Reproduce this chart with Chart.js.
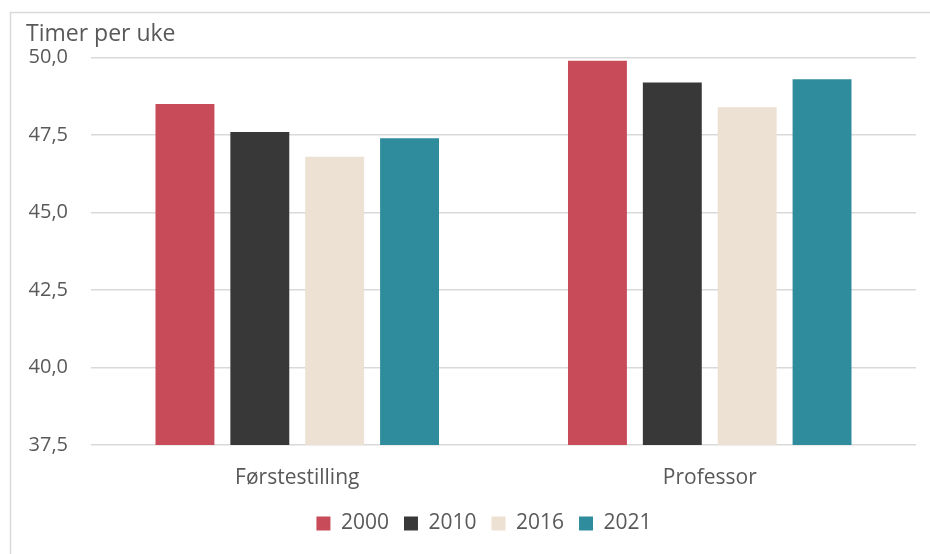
<!DOCTYPE html>
<html>
<head>
<meta charset="utf-8">
<script src="https://cdn.jsdelivr.net/npm/chart.js@4/dist/chart.umd.min.js"></script>
<style>
  html, body { margin: 0; padding: 0; background: #fff; }
  #wrap { position: relative; width: 930px; height: 554px; }
  canvas { display: block; }
</style>
</head>
<body>
<div id="wrap"><canvas id="c" width="930" height="554"></canvas></div>
<script>
const categories = ['Førstestilling', 'Professor'];
const years = ['2000', '2010', '2016', '2021'];
const values2000 = [48.5, 49.9];
const values2010 = [47.6, 49.2];
const values2016 = [46.8, 48.4];
const values2021 = [47.4, 49.3];
const yTickValues = [37.5, 40.0, 42.5, 45.0, 47.5, 50.0];
const yTitle = 'Timer per uke';

const colors = ['#c84b5a', '#383838', '#ece1d2', '#2e8c9d'];
const series = [values2000, values2010, values2016, values2021];

const framePlugin = {
  id: 'frame',
  beforeDraw(chart) {
    const ctx = chart.ctx;
    ctx.save();
    ctx.fillStyle = '#fff';
    ctx.fillRect(0, 0, chart.width, chart.height);
    ctx.strokeStyle = '#d9d9d9';
    ctx.lineWidth = 1.5;
    ctx.beginPath();
    ctx.moveTo(10.5, chart.height);
    ctx.lineTo(10.5, 12.5);
    ctx.lineTo(chart.width, 12.5);
    ctx.stroke();
    ctx.restore();
  }
};

const legendShift = {
  id: 'legendShift',
  afterLayout(chart) {
    if (chart.legend) {
      chart.legend.left += 13;
      chart.legend.right += 13;
    }
  }
};

new Chart(document.getElementById('c'), {
  type: 'bar',
  data: {
    labels: categories,
    datasets: years.map((y, i) => ({
      label: y,
      data: series[i],
      backgroundColor: colors[i],
      borderWidth: 0,
      categoryPercentage: 0.726,
      barPercentage: 0.787
    }))
  },
  options: {
    responsive: false,
    animation: false,
    devicePixelRatio: 1,
    layout: { padding: { left: 26, right: 14, top: 14, bottom: 10 } },
    plugins: {
      title: {
        display: true,
        text: yTitle,
        align: 'start',
        color: '#595959',
        font: { family: 'Open Sans', size: 23, weight: 'normal' },
        padding: { top: 6.5, bottom: 9.5 }
      },
      legend: {
        position: 'bottom',
        labels: {
          color: '#595959',
          font: { family: 'Open Sans', size: 21 },
          boxWidth: 14,
          boxHeight: 14,
          padding: 15
        }
      },
      tooltip: { enabled: false }
    },
    scales: {
      x: {
        afterFit(axis) { axis.height = 53; },
        grid: { display: false },
        border: { display: false },
        ticks: {
          color: '#595959',
          font: { family: 'Open Sans', size: 21 },
          padding: 12
        }
      },
      y: {
        min: 37.5,
        max: 50,
        afterBuildTicks(axis) {
          axis.ticks = yTickValues.map(v => ({ value: v }));
        },
        afterFit(axis) { axis.width = 65; },
        grid: { color: '#d9d9d9', lineWidth: 1.5, drawTicks: false },
        border: { display: false },
        ticks: {
          color: '#595959',
          font: { family: 'Open Sans', size: 20 },
          padding: 23,
          callback: v => Number(v).toFixed(1).replace('.', ',')
        }
      }
    }
  },
  plugins: [framePlugin, legendShift]
});
</script>
</body>
</html>
